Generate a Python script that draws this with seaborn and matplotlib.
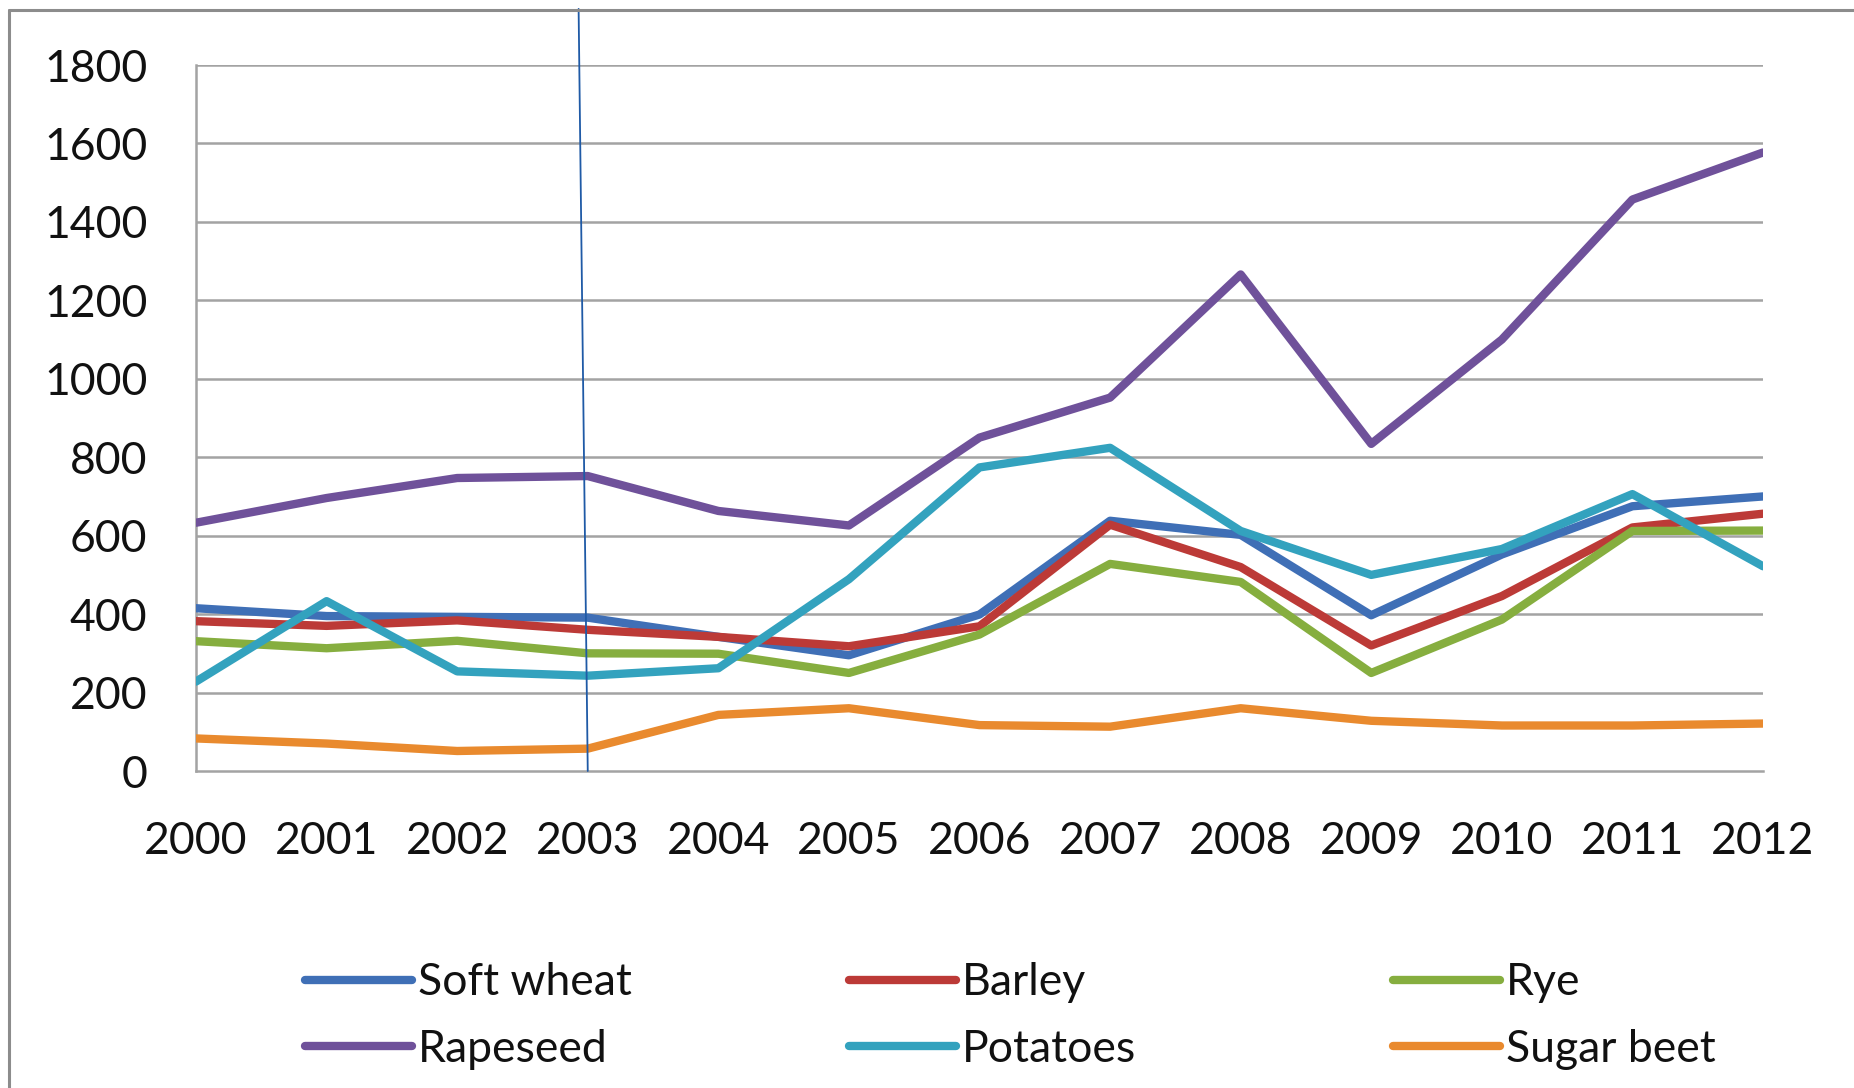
import matplotlib
matplotlib.use("Agg")
import matplotlib.pyplot as plt
from matplotlib.lines import Line2D
import seaborn as sns
import pandas as pd

# ---- data ----
years = [2000, 2001, 2002, 2003, 2004, 2005, 2006, 2007, 2008, 2009, 2010, 2011, 2012]
soft_wheat = [415, 395, 393, 391, 342, 295, 399, 638, 602, 397, 552, 675, 700]
barley = [382, 370, 384, 360, 342, 318, 369, 628, 520, 320, 446, 621, 656]
rye = [331, 313, 332, 300, 299, 250, 348, 528, 482, 250, 386, 612, 613]
rapeseed = [633, 696, 747, 752, 663, 626, 850, 952, 1266, 834, 1100, 1457, 1577]
potatoes = [228, 433, 254, 243, 262, 489, 774, 824, 612, 500, 566, 706, 522]
sugar_beet = [83, 70, 51, 57, 143, 160, 117, 113, 160, 128, 116, 116, 121]
crops = ["Soft wheat", "Barley", "Rye", "Rapeseed", "Potatoes", "Sugar beet"]
y_ticks = [0, 200, 400, 600, 800, 1000, 1200, 1400, 1600, 1800]
marker_year = 2003

colors = {
    "Soft wheat": "#3F6FB6",
    "Barley": "#BC3A37",
    "Rye": "#86AE3F",
    "Rapeseed": "#6F519A",
    "Potatoes": "#33A2BE",
    "Sugar beet": "#E98A2E",
}

series = dict(zip(crops, [soft_wheat, barley, rye, rapeseed, potatoes, sugar_beet]))
df = pd.DataFrame(
    [(y, c, v) for c in crops for y, v in zip(years, series[c])],
    columns=["Year", "Crop", "Value"],
)

sns.set_style("white")
plt.rcParams["font.family"] = ["Lato", "DejaVu Sans"]

fig = plt.figure(figsize=(18.54, 10.88), dpi=100)
ax = fig.add_axes([196 / 1854, 1 - 771 / 1088, (1763 - 196) / 1854, (771 - 65) / 1088])

grid_c = "#A3A3A3"
for t in y_ticks[1:]:
    ax.axhline(t, color=grid_c, lw=1.8, zorder=0)

lw = 6.0
sns.lineplot(data=df, x="Year", y="Value", hue="Crop", hue_order=crops,
             palette=colors, linewidth=lw, legend=False, ax=ax, zorder=3)

ax.set_xlim(years[0], years[-1])
ax.set_ylim(0, 1800)
ax.set_xticks(years)
ax.set_xticklabels([str(y) for y in years])
ax.set_yticks(y_ticks)
ax.set_yticklabels([str(t) for t in y_ticks])
ax.set_xlabel("")
ax.set_ylabel("")
for s in ["top", "right"]:
    ax.spines[s].set_visible(False)
for s in ["left", "bottom"]:
    ax.spines[s].set_color(grid_c)
    ax.spines[s].set_linewidth(1.8)
ax.tick_params(axis="x", direction="out", length=12, width=1.8, color=grid_c,
               labelsize=32, pad=24, labelcolor="#111111")
ax.tick_params(axis="y", direction="out", length=13, width=1.8, color=grid_c,
               labelsize=32, pad=22, labelcolor="#111111")
ax.grid(False)

# thin vertical marker line at 2003
ax.plot([marker_year - 0.07, marker_year], [1943, 0], color="#1F5AA6", lw=1.3,
        clip_on=False, zorder=5)

# legends: three columns
cols = [["Soft wheat", "Rapeseed"], ["Barley", "Potatoes"], ["Rye", "Sugar beet"]]
xs = [305 / 1854, 849 / 1854, 1393 / 1854]
for names, x in zip(cols, xs):
    handles = [Line2D([0], [0], color=colors[n], lw=lw) for n in names]
    leg = fig.legend(handles, names, loc="center left", bbox_to_anchor=(x, 1 - 1016 / 1088),
                     frameon=False, fontsize=32, handlelength=2.4, handletextpad=0.15,
                     labelspacing=0.57, borderpad=0, borderaxespad=0)
    for t in leg.get_texts():
        t.set_color("#111111")

# outer frame (top and left only)
frame_c = "#8C8C8C"
fig.add_artist(Line2D([9 / 1854, 1], [1 - 10 / 1088, 1 - 10 / 1088],
                      transform=fig.transFigure, color=frame_c, lw=2.2))
fig.add_artist(Line2D([9 / 1854, 9 / 1854], [0, 1 - 10 / 1088],
                      transform=fig.transFigure, color=frame_c, lw=2.2))

fig.savefig("out.png", dpi=100, facecolor="white")
